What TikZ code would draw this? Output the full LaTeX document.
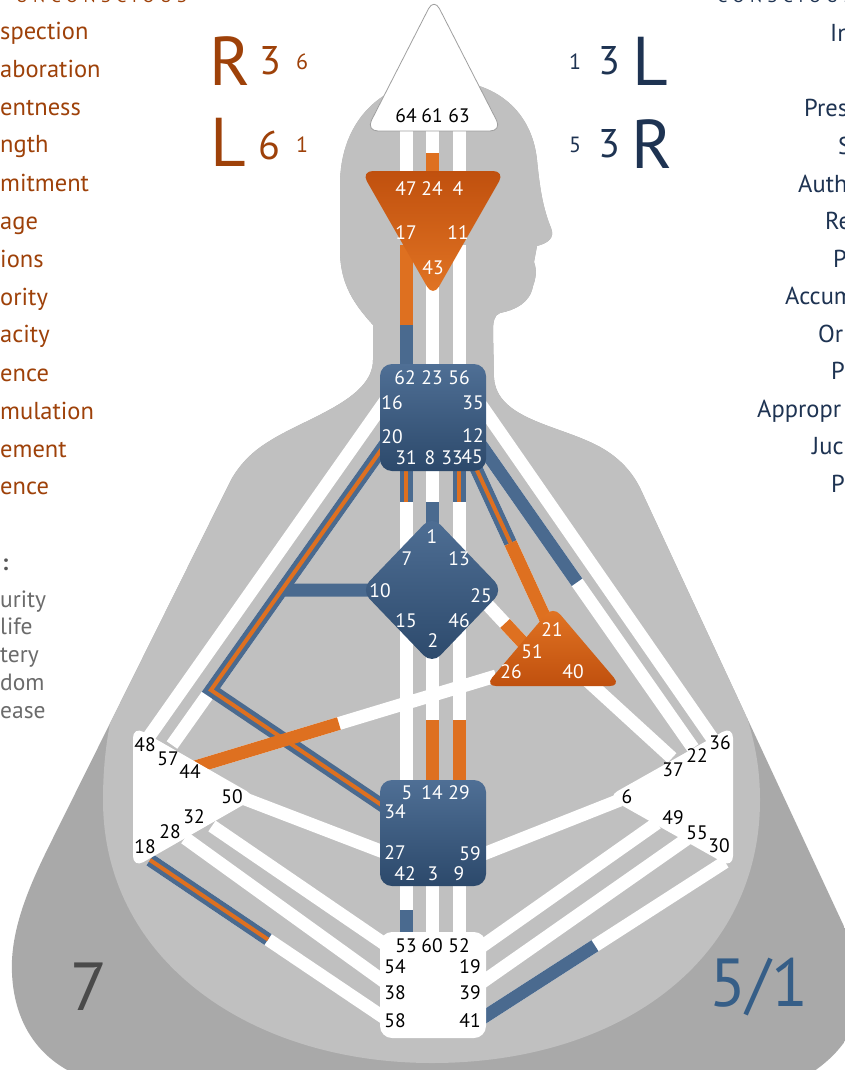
\documentclass[tikz,border=0pt]{standalone}
\usepackage{fontspec}
\setmainfont{PT Sans}
\usetikzlibrary{calc}
\definecolor{bodyL}{HTML}{C0C0C0}
\definecolor{bodyD}{HTML}{A9A9A9}
\definecolor{chB}{HTML}{4A6A8F}
\definecolor{chO}{HTML}{DE7020}
\definecolor{cBt}{HTML}{4F6F95}
\definecolor{cBb}{HTML}{2C496B}
\definecolor{cOd}{HTML}{C0500E}
\definecolor{cOl}{HTML}{E27524}
\definecolor{txO}{HTML}{9E4109}
\definecolor{txN}{HTML}{1E3352}
\definecolor{txG}{HTML}{6B6B6B}
\definecolor{profC}{HTML}{365E87}
\definecolor{numK}{HTML}{4A4A4A}
\tikzset{
  chw/.style={white, line width=13pt},
  chb/.style={chB, line width=13pt},
  cho/.style={chO, line width=13pt},
  stripe/.style={chO, line width=4pt},
  gw/.style={font=\fontsize{19.5}{19.5}\selectfont, inner sep=0pt, text=white},
  gk/.style={gw, text=black},
  lstO/.style={font=\fontsize{24.5}{24.5}\selectfont, inner sep=0pt, text=txO, anchor=base west},
  lstN/.style={font=\fontsize{24.5}{24.5}\selectfont, inner sep=0pt, text=txN, anchor=base west},
  lstG/.style={font=\fontsize{23.5}{23.5}\selectfont, inner sep=0pt, text=txG, anchor=base west},
  bigO/.style={inner sep=0pt, text=txO},
  bigN/.style={inner sep=0pt, text=txN},
}
\begin{document}
\begin{tikzpicture}[x=1pt,y=-1pt]
\useasboundingbox (0,0) rectangle (844,1070);
\fill[white] (0,0) rectangle (844,1070);
% ---------- body silhouette ----------
\begin{scope}
\clip (440,80) .. controls (497,80) and (532,112) .. (537,160)
  .. controls (540,190) and (543,208) .. (551,228)
  .. controls (555,238) and (548,243) .. (537,246)
  -- (534,262)
  .. controls (537,270) and (536,278) .. (533,286)
  .. controls (530,303) and (515,310) .. (500,313)
  .. controls (494,315) and (493,322) .. (493,332)
  -- (494,378)
  .. controls (497,420) and (560,425) .. (600,447)
  .. controls (620,458) and (633,473) .. (641,490)
  -- (848,935)
  .. controls (870,985) and (870,1040) .. (800,1080)
  -- (90,1080)
  .. controls (30,1060) and (10,1010) .. (12,960)
  .. controls (14,920) and (32,880) .. (52,840)
  -- (231,480)
  .. controls (241,462) and (255,450) .. (268,442)
  .. controls (305,418) and (373,400) .. (373,360)
  -- (373,325)
  .. controls (355,305) and (340,285) .. (340,250)
  -- (340,185)
  .. controls (340,120) and (383,80) .. (440,80) -- cycle;
\fill[bodyD] (-20,-20) rectangle (880,1100);
\fill[bodyL] (-20,-20) -- (880,-20) -- (880,690) -- (738,690)
  .. controls (752,730) and (760,760) .. (760,800)
  .. controls (760,960) and (620,1063) .. (432,1063)
  .. controls (250,1063) and (103,960) .. (103,800)
  .. controls (103,760) and (108,725) .. (118,690) -- (-20,690) -- cycle;
\end{scope}
% ---------- gate coordinates ----------
\coordinate (h64) at (406,125); \coordinate (h61) at (432,125); \coordinate (h63) at (459,125);
\coordinate (a47) at (406,182); \coordinate (a24) at (432,182); \coordinate (a4) at (459,182);
\coordinate (a17) at (406,245); \coordinate (a43) at (432,285); \coordinate (a11) at (459,245);
\coordinate (t62) at (406,372); \coordinate (t23) at (432,372); \coordinate (t56) at (459,372);
\coordinate (t16) at (386,400); \coordinate (t20) at (386,443); \coordinate (t35) at (481,405);
\coordinate (t12) at (481,445); \coordinate (t31) at (406,466); \coordinate (t8) at (432,466);
\coordinate (t33) at (459,466); \coordinate (t45) at (475,466);
\coordinate (g1) at (432,530); \coordinate (g7) at (406,560); \coordinate (g13) at (459,560);
\coordinate (g10) at (372,590); \coordinate (g25) at (486,603); \coordinate (g15) at (406,620);
\coordinate (g2) at (432,650); \coordinate (g46) at (459,620);
\coordinate (e21) at (546,620); \coordinate (e51) at (526,646); \coordinate (e26) at (496,676);
\coordinate (e40) at (578,672);
\coordinate (s5) at (406,786); \coordinate (s14) at (432,786); \coordinate (s29) at (459,786);
\coordinate (s34) at (386,808); \coordinate (s27) at (386,853); \coordinate (s59) at (481,855);
\coordinate (s42) at (406,880); \coordinate (s3) at (432,880); \coordinate (s9) at (459,880);
\coordinate (r53) at (406,938); \coordinate (r60) at (432,938); \coordinate (r52) at (459,938);
\coordinate (r54) at (386,945); \coordinate (r38) at (386,983); \coordinate (r58) at (386,1019);
\coordinate (r19) at (481,947); \coordinate (r39) at (481,983); \coordinate (r41) at (481,1019);
\coordinate (p48) at (148,738); \coordinate (p57) at (172,745); \coordinate (p44) at (195,767);
\coordinate (p50) at (240,797); \coordinate (p32) at (212,826); \coordinate (p28) at (185,838);
\coordinate (p18) at (150,860);
\coordinate (x36) at (712,738); \coordinate (x22) at (693,748); \coordinate (x37) at (672,758);
\coordinate (x6) at (620,800); \coordinate (x49) at (657,823); \coordinate (x55) at (688,838);
\coordinate (x30) at (725,862);
\coordinate (J) at ($(p57)!0.182!(t20)$);
\coordinate (k10) at ($(p57)!0.513!(t20)$);
% ---------- inactive channels ----------
\foreach \a/\b in {h64/a47,h61/a24,h63/a4,a17/t62,a43/t23,a11/t56,t31/g7,t8/g1,t33/g13,
  g15/s5,g2/s14,g46/s29,s42/r53,s3/r60,s9/r52,p48/t16,p57/t20,p44/e26,p50/s27,p32/r54,
  p28/r38,p18/r58,t35/x36,t12/x22,t45/e21,g25/e51,e40/x37,x6/s59,x49/r19,x55/r39,x30/r41}
  \draw[chw] (\a) -- (\b);
% ---------- active channel parts ----------
\draw[cho] ($(h61)!0.49!(a24)$) -- (a24);
\draw[cho] (a17) -- ($(a17)!0.63!(t62)$);
\draw[chb] ($(a17)!0.63!(t62)$) -- (t62);
\draw[chb] (t31) -- ($(t31)!0.383!(g7)$);
\draw[stripe] (t31) -- ($(t31)!0.383!(g7)$);
\draw[chb] ($(t8)!0.5625!(g1)$) -- (g1);
\draw[chb] (t33) -- ($(t33)!0.383!(g13)$);
\draw[stripe] (t33) -- ($(t33)!0.383!(g13)$);
\draw[cho] ($(g2)!0.515!(s14)$) -- (s14);
\draw[cho] ($(g46)!0.602!(s29)$) -- (s29);
\draw[chb] ($(s42)!0.517!(r53)$) -- (r53);
\draw[chb] (k10) -- (g10);
\draw[chb] (t20) -- (J) -- (s34);
\draw[stripe] (t20) -- (J) -- (s34);
\draw[cho] (p44) -- ($(p44)!0.478!(e26)$);
\draw[chb] (t12) -- ($(t12)!0.453!(x22)$);
\draw[chb] (t45) -- ($(t45)!0.5!(e21)$);
\draw[stripe] (t45) -- ($(t45)!0.5!(e21)$);
\draw[cho] ($(t45)!0.5!(e21)$) -- (e21);
\draw[cho] ($(g25)!0.475!(e51)$) -- (e51);
\draw[chb] (p18) -- ($(p18)!0.5!(r58)$);
\draw[stripe] (p18) -- ($(p18)!0.5!(r58)$);
\draw[chb] (r41) -- ($(r41)!0.467!(x30)$);
% ---------- centers ----------
\filldraw[fill=white, draw=gray!75, line width=0.8pt, rounded corners=12pt]
  (434,-2) -- (502,131) -- (366,131) -- cycle;
\shade[top color=cOd, bottom color=cOl, rounded corners=12pt]
  (361,171) -- (505,171) -- (433,297) -- cycle;
\shade[top color=cBt, bottom color=cBb, rounded corners=12pt] (380,364) rectangle (486,471);
\shade[top color=cBt, bottom color=cBb, rounded corners=12pt]
  (432,516) -- (503,590) -- (432,664) -- (361,590) -- cycle;
\shade[top color=cOl, bottom color=cOd, rounded corners=11pt]
  (553,606) -- (621,686) -- (485,686) -- cycle;
\shade[top color=cBt, bottom color=cBb, rounded corners=12pt] (380,780) rectangle (486,886);
\fill[white, rounded corners=12pt] (380,932) rectangle (486,1038);
\fill[white, rounded corners=12pt] (133,726) -- (257,797) -- (133,868) -- cycle;
\fill[white, rounded corners=12pt] (733,726) -- (607,797) -- (733,868) -- cycle;
% ---------- gate labels ----------
\node[gk] (n64) at (406,116) {64}; \node[gk] (n61) at (432,116) {61}; \node[gk] (n63) at (459,116) {63};
\node[gw] (n47) at (406,189) {47}; \node[gw] (n24) at (432,189) {24}; \node[gw] (n4) at (458,189) {4};
\node[gw] (n17) at (406,233) {17}; \node[gw] (n11) at (458,233) {11}; \node[gw] (n43) at (433,268) {43};
\node[gw] (n62) at (405,378) {62}; \node[gw] (n23) at (432,378) {23}; \node[gw] (n56) at (459,378) {56};
\node[gw] (n16) at (392,403) {16}; \node[gw] (n35) at (473,403) {35};
\node[gw] (n20) at (392,437) {20}; \node[gw] (n12) at (473,436) {12};
\node[gw] (n31) at (406,458) {31}; \node[gw] (n8) at (430,458) {8};
\node[gw] (n33) at (452,458) {33}; \node[gw] (n45) at (472,457) {45};
\node[gw] (n1) at (432,537) {1}; \node[gw] (n7) at (407,559) {7}; \node[gw] (n13) at (459,559) {13};
\node[gw] (n10) at (380,591) {10}; \node[gw] (n25) at (481,596) {25};
\node[gw] (n15) at (406,621) {15}; \node[gw] (n46) at (459,621) {46}; \node[gw] (n2) at (433,641) {2};
\node[gw] (n21) at (552,630) {21}; \node[gw] (n51) at (532,652) {51};
\node[gw] (n26) at (511,672) {26}; \node[gw] (n40) at (573,672) {40};
\node[gw] (n5) at (407,793) {5}; \node[gw] (n14) at (432,793) {14}; \node[gw] (n29) at (459,793) {29};
\node[gw] (n34) at (395,812) {34}; \node[gw] (n27) at (395,853) {27}; \node[gw] (n59) at (470,854) {59};
\node[gw] (n42) at (405,874) {42}; \node[gw] (n3) at (433,874) {3}; \node[gw] (n9) at (459,874) {9};
\node[gk] (n53) at (406,946) {53}; \node[gk] (n60) at (432,946) {60}; \node[gk] (n52) at (459,946) {52};
\node[gk] (n54) at (395,967) {54}; \node[gk] (n19) at (470,967) {19};
\node[gk] (n38) at (395,993) {38}; \node[gk] (n39) at (470,993) {39};
\node[gk] (n58) at (395,1021) {58}; \node[gk] (n41) at (470,1021) {41};
\node[gk] (n48) at (145,745) {48}; \node[gk] (n57) at (168,759) {57}; \node[gk] (n44) at (190,772) {44};
\node[gk] (n50) at (232,797) {50}; \node[gk] (n32) at (194,817) {32}; \node[gk] (n28) at (170,832) {28};
\node[gk] (n18) at (145,847) {18};
\node[gk] (n36) at (720,743) {36}; \node[gk] (n22) at (697,756) {22}; \node[gk] (n37) at (673,770) {37};
\node[gk] (n6) at (627,797) {6}; \node[gk] (n49) at (673,818) {49}; \node[gk] (n55) at (697,833) {55};
\node[gk] (n30) at (719,846) {30};
% ---------- profile / definition numbers ----------
\node[bigO, font=\fontsize{69}{69}\selectfont] (dR) at (230,61) {R};
\node[bigO, font=\fontsize{40}{40}\selectfont] (dR3) at (270,61) {3};
\node[bigO, font=\fontsize{22}{22}\selectfont] (dR6) at (302,62) {6};
\node[bigO, font=\fontsize{69}{69}\selectfont] (dL) at (228,142) {L};
\node[bigO, font=\fontsize{40}{40}\selectfont] (dL6) at (269,145) {6};
\node[bigO, font=\fontsize{22}{22}\selectfont] (dL1) at (302,145) {1};
\node[bigN, font=\fontsize{22}{22}\selectfont] (pL1) at (575,62) {1};
\node[bigN, font=\fontsize{40}{40}\selectfont] (pL3) at (609,61) {3};
\node[bigN, font=\fontsize{69}{69}\selectfont] (pL) at (650,61) {L};
\node[bigN, font=\fontsize{22}{22}\selectfont] (pR5) at (575,145) {5};
\node[bigN, font=\fontsize{40}{40}\selectfont] (pR3) at (609,144) {3};
\node[bigN, font=\fontsize{69}{69}\selectfont] (pR) at (652,144) {R};
\node[inner sep=0pt, text=numK, font=\fontsize{68}{68}\selectfont] (seven) at (89,987) {7};
\node[inner sep=0pt, text=profC, font=\fontsize{68}{68}\selectfont] (prof) at (759,987) {5/1};
% ---------- side texts ----------
\node[inner sep=0pt, anchor=base east, text=txO, font=\fontsize{18}{18}\selectfont] (hdL) at (187,2.5) {\addfontfeatures{LetterSpace=30}UNCONSCIOUS};
\node[inner sep=0pt, anchor=base west, text=txN, font=\fontsize{18}{18}\selectfont] (hdR) at (717,2.5) {\addfontfeatures{LetterSpace=30}CONSCIOUS};
\node[lstO] (l1) at (0,40) {spection};
\node[lstO] (l2) at (0,78) {aboration};
\node[lstO] (l3) at (0,116) {entness};
\node[lstO] (l4) at (0,153) {ngth};
\node[lstO] (l5) at (0,191) {mitment};
\node[lstO] (l6) at (0,229) {age};
\node[lstO] (l7) at (0,267) {ions};
\node[lstO] (l8) at (0,305) {ority};
\node[lstO] (l9) at (0,342) {acity};
\node[lstO] (l10) at (0,381) {ence};
\node[lstO] (l11) at (0,419) {mulation};
\node[lstO] (l12) at (0,457) {ement};
\node[lstO] (l13) at (0,494) {ence};
\node[inner sep=0pt, anchor=base west, text=txG!80!black, font=\fontsize{23}{23}\selectfont\bfseries] (gh) at (2,570) {:};
\node[lstG] (g1t) at (0,607) {urity};
\node[lstG] (g2t) at (0,634) {life};
\node[lstG] (g3t) at (0,662) {tery};
\node[lstG] (g4t) at (0,690) {dom};
\node[lstG] (g5t) at (0,718) {ease};
\node[lstN] (r1) at (830,42) {In};
\node[lstN] (r3) at (804,117) {Pres};
\node[lstN] (r4) at (838,154) {S};
\node[lstN] (r5) at (798,192) {Auth};
\node[lstN] (r6) at (825,229) {Re};
\node[lstN] (r7) at (833,267) {P};
\node[lstN] (r8) at (785,304) {Accum};
\node[lstN] (r9) at (818,342) {Or};
\node[lstN] (r10) at (831,379) {P};
\node[lstN] (r11) at (757,417) {Appropr};
\node[lstN] (r12) at (812,454) {Juc};
\node[lstN] (r13) at (831,492) {P};
\end{tikzpicture}
\end{document}
